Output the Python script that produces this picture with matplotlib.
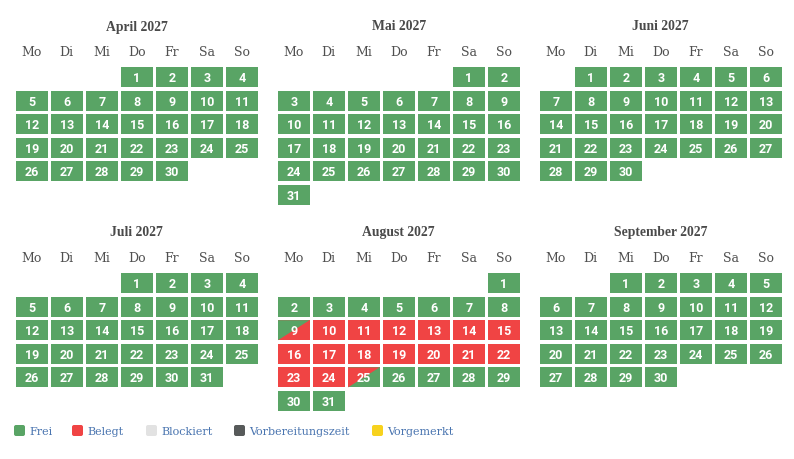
import matplotlib.pyplot as plt
from matplotlib.patches import Rectangle, Polygon, FancyBboxPatch

# Daten ------------------------------------------------------------------
monate = ['April 2027', 'Mai 2027', 'Juni 2027', 'Juli 2027', 'August 2027', 'September 2027']
erster_wochentag = [3, 5, 1, 3, 6, 2]   # Mo=0 ... So=6
tage_im_monat = [30, 31, 30, 31, 31, 30]
wochentage = ['Mo', 'Di', 'Mi', 'Do', 'Fr', 'Sa', 'So']

# Belegung: (Monatsindex, Anreisetag, Abreisetag)
belegung = [(4, 9, 25)]

legende_namen = ['Frei', 'Belegt', 'Blockiert', 'Vorbereitungszeit', 'Vorgemerkt']
legende_farben = ['#59a465', '#f04444', '#e2e2e2', '#575a5a', '#f7d21e']

FREI = '#59a465'
BELEGT = '#f04444'

# Layout (Pixel) ---------------------------------------------------------
ursprung = [(16, 68), (278, 68), (540, 68), (16, 274), (278, 274), (540, 274)]
schritt_x, schritt_y = 35.0, 23.6
zelle_b, zelle_h = 31.5, 20.0

fig = plt.figure(figsize=(7.94, 4.60), dpi=100)
ax = fig.add_axes([0, 0, 1, 1])
ax.set_xlim(0, 794)
ax.set_ylim(460, 0)
ax.axis('off')

titel_font = ['Liberation Serif']
serif = ['DejaVu Serif']
ziffern = ['Roboto', 'DejaVu Sans']


def status(m, tag):
    for bm, an, ab in belegung:
        if bm == m:
            if tag == an:
                return 'an'
            if tag == ab:
                return 'ab'
            if an < tag < ab:
                return 'belegt'
    return 'frei'


for m, titel in enumerate(monate):
    x0, y0 = ursprung[m]
    mitte = x0 + (6 * schritt_x + zelle_b) / 2
    ax.text(mitte, y0 - 41, titel, ha='center', va='center', fontsize=9.8,
            fontweight='bold', color='#4a4a4a', family=titel_font)
    for k, wt in enumerate(wochentage):
        ax.text(x0 + k * schritt_x + zelle_b / 2, y0 - 15, wt, ha='center', va='center',
                fontsize=9, color='#505050', family=serif)
    for tag in range(1, tage_im_monat[m] + 1):
        pos = erster_wochentag[m] + tag - 1
        sp, zl = pos % 7, pos // 7
        x = x0 + sp * schritt_x
        y = y0 + zl * schritt_y
        st = status(m, tag)
        if st == 'frei':
            ax.add_patch(Rectangle((x, y), zelle_b, zelle_h, facecolor=FREI, edgecolor='none'))
        elif st == 'belegt':
            ax.add_patch(Rectangle((x, y), zelle_b, zelle_h, facecolor=BELEGT, edgecolor='none'))
        else:
            # oberes linkes Dreieck in einer Farbe, Rest in der anderen
            c_oben, c_unten = (FREI, BELEGT) if st == 'an' else (BELEGT, FREI)
            ax.add_patch(Rectangle((x, y), zelle_b, zelle_h, facecolor=c_unten, edgecolor='none'))
            dreieck = [(x, y), (x + zelle_b, y), (x, y + zelle_h)]
            ax.add_patch(Polygon(dreieck, closed=True, facecolor=c_oben, edgecolor='none', zorder=2))
        ax.text(x + zelle_b / 2, y + zelle_h / 2 + 0.5, str(tag), ha='center', va='center',
                fontsize=9, fontweight='bold', color='white', family=ziffern, zorder=3)

# Legende ----------------------------------------------------------------
leg_x = [14, 72, 146, 234, 372]
for lx, name, farbe in zip(leg_x, legende_namen, legende_farben):
    ax.add_patch(FancyBboxPatch((lx, 426), 11, 11, boxstyle='round,pad=0,rounding_size=2',
                                facecolor=farbe, edgecolor='none'))
    ax.text(lx + 15, 432, name, ha='left', va='center', fontsize=8,
            color='#4a75b0', family=serif)

fig.savefig('out.png', dpi=100)
